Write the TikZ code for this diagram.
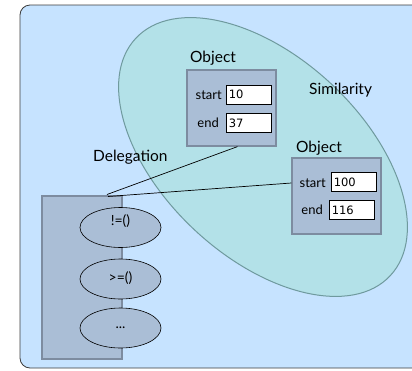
\documentclass[tikz,border=0pt]{standalone}
\usepackage{fontspec}
\setmainfont{Lato}
\newfontfamily\numfont{DejaVu Sans}
\usetikzlibrary{shapes.geometric}
\definecolor{bgblue}{HTML}{C6E3FF}
\definecolor{bgborder}{HTML}{3C3C3C}
\definecolor{simfill}{HTML}{B3E1E8}
\definecolor{simborder}{HTML}{6F9A9E}
\definecolor{boxfill}{HTML}{AABED6}
\definecolor{boxborder}{HTML}{7D8CA0}
\tikzset{
  objbox/.style={draw=boxborder, fill=boxfill, line width=1.2pt, minimum width=89pt, minimum height=76pt, inner sep=0pt},
  fieldbox/.style={draw=black, fill=white, line width=0.6pt, minimum width=45pt, minimum height=19pt, inner sep=0pt, font=\numfont\fontsize{11.5}{13}\selectfont, anchor=west, text width=40pt, align=left},
  fieldlbl/.style={font=\fontsize{13}{15}\selectfont, inner sep=0pt},
  biglbl/.style={font=\fontsize{15.5}{17}\selectfont, inner sep=0pt},
  meth/.style={ellipse, draw=black, fill=boxfill, line width=0.6pt, minimum width=81pt, minimum height=40pt, inner sep=0pt},
  methlbl/.style={font=\fontsize{14}{16}\selectfont, inner sep=0pt},
  link/.style={draw=black, line width=0.7pt}
}
\begin{document}
\begin{tikzpicture}[x=1pt,y=-1pt]
\useasboundingbox (0,0) rectangle (412,370);
\begin{scope}
\clip (0,0) rectangle (412,370);
\draw[draw=bgborder, fill=bgblue, line width=0.8pt, rounded corners=10pt] (20,5) rectangle (430,368);
\end{scope}
% similarity ellipse
\draw[draw=simborder, fill=simfill, line width=1pt, rotate around={-43:(263,157)}] (263,157) ellipse [x radius=174pt, y radius=100pt];
% object 1
\node[objbox] (o1) at (231.5,108) {};
\node[biglbl, anchor=west] (o1lbl) at (190,58) {Object};
\node[fieldbox] (v1a) at (226,94.5) {10};
\node[fieldbox] (v1b) at (226,123) {37};
\node[fieldlbl, anchor=east] (s1) at (222,95) {start};
\node[fieldlbl, anchor=east] (e1l) at (219,123) {end};
% object 2
\node[objbox] (o2) at (336.5,196) {};
\node[biglbl, anchor=west] (o2lbl) at (296,148) {Object};
\node[fieldbox] (v2a) at (331,182) {100};
\node[fieldbox] (v2b) at (329,210) {116};
\node[fieldlbl, anchor=east] (s2) at (326,183) {start};
\node[fieldlbl, anchor=east] (e2l) at (323,210) {end};
% labels
\node[biglbl, anchor=west] (sim) at (309,90) {Similarity};
\node[biglbl, anchor=west] (del) at (93,157) {Delegation};
% delegating object
\node[draw=boxborder, fill=boxfill, line width=1.2pt, minimum width=80pt, minimum height=163pt, inner sep=0pt] (dbox) at (82,277.5) {};
\node[meth] (m1) at (120.5,227.5) {};
\node[meth] (m2) at (120.5,279) {};
\node[meth] (m3) at (120.5,328) {};
\node[methlbl] (m1l) at (120.5,221) {!=()};
\node[methlbl] (m2l) at (120.5,278) {>=()};
\node[methlbl] (m3l) at (120.5,328) {...};
% connectors
\coordinate (d1) at (107,194.5);
\coordinate (d2) at (108,196.5);
\draw[link] (d1) -- ([xshift=6pt]o1.south);
\draw[link] (d2) -- (o2.west |- s2.west);
\end{tikzpicture}
\end{document}
